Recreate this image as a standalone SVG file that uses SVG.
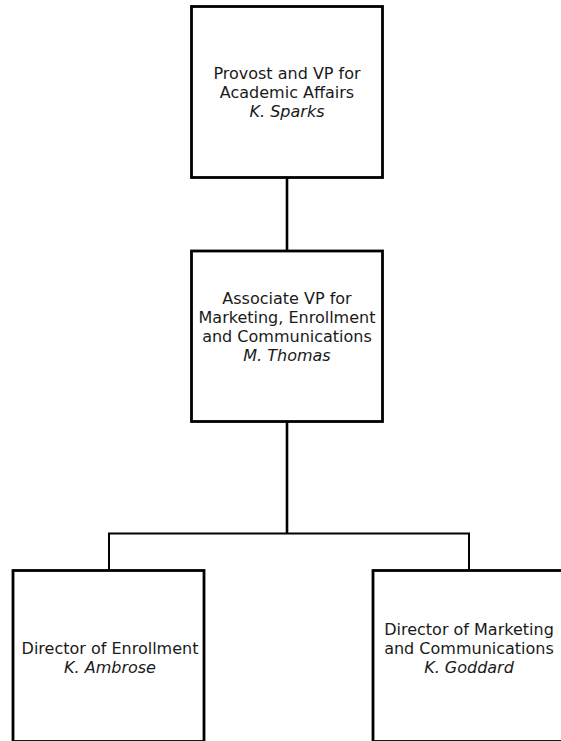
<svg xmlns="http://www.w3.org/2000/svg" width="561" height="741" viewBox="0 0 561 741">
<style>
.box{fill:#ffffff;stroke:#000000;stroke-width:2.8}
.ln{fill:none;stroke:#000000}
.t{font-family:"DejaVu Sans","Verdana",sans-serif;font-size:16px;fill:#1a1a1a;text-anchor:middle}
.i{font-style:italic}
</style>
<rect width="561" height="741" fill="#ffffff"/>
<g id="connectors">
<line class="ln" x1="287" y1="177.5" x2="287" y2="251" stroke-width="2.6"/>
<line class="ln" x1="287" y1="421.5" x2="287" y2="533.5" stroke-width="2.6"/>
<polyline class="ln" points="109,570.5 109,533.5 469,533.5 469,570.5" stroke-width="2"/>
</g>
<g id="provost">
<rect class="box" x="191.5" y="6.5" width="191" height="171"/>
<text class="t" x="287" y="78.7">Provost and VP for</text>
<text class="t" x="287" y="97.7">Academic Affairs</text>
<text class="t i" x="287" y="116.5">K. Sparks</text>
</g>
<g id="assocvp">
<rect class="box" x="191.5" y="251" width="191" height="170.5"/>
<text class="t" x="287" y="303.5">Associate VP for</text>
<text class="t" x="287" y="322.5">Marketing, Enrollment</text>
<text class="t" x="287" y="341.5">and Communications</text>
<text class="t i" x="287" y="360.5">M. Thomas</text>
</g>
<g id="enrollment">
<rect class="box" x="13" y="570.5" width="191" height="171"/>
<text class="t" x="110" y="653.5">Director of Enrollment</text>
<text class="t i" x="110" y="672.5">K. Ambrose</text>
</g>
<g id="marketing">
<rect class="box" x="373" y="570.5" width="191" height="171"/>
<text class="t" x="469" y="634.5">Director of Marketing</text>
<text class="t" x="469" y="653.5">and Communications</text>
<text class="t i" x="469" y="672.5">K. Goddard</text>
</g>
</svg>
